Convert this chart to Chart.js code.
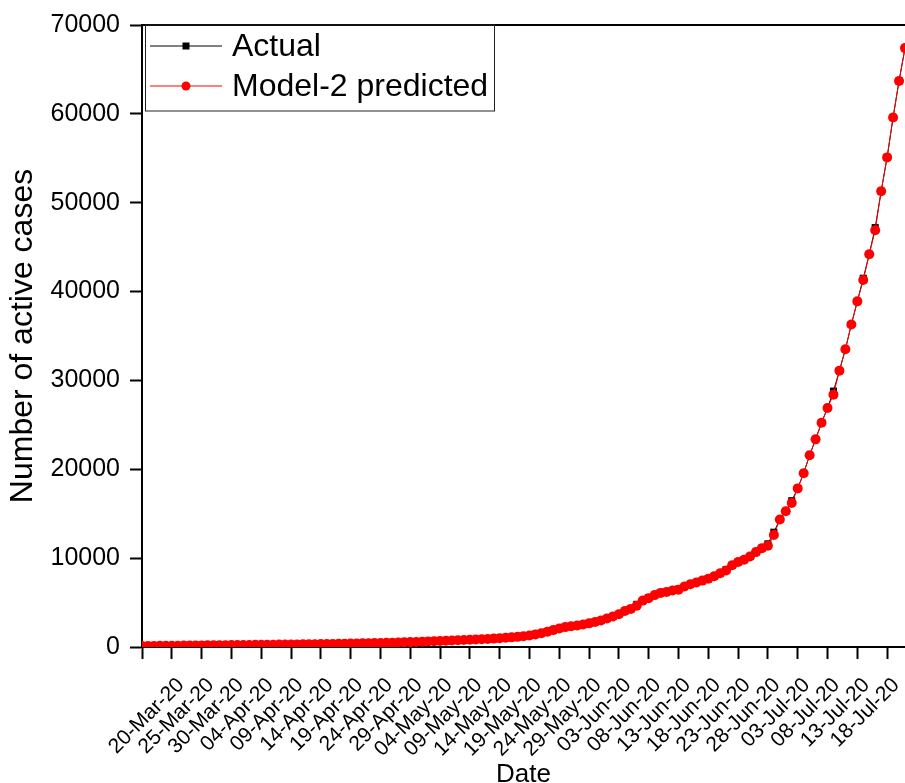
<!DOCTYPE html>
<html lang="en">
<head>
    <meta charset="UTF-8">
    <title>Active cases - Actual vs Model-2</title>
    <style>
        body { margin: 0; background: #fff; }
    </style>
</head>
<body>
    <canvas id="myChart" width="905" height="783"></canvas>
    <script src="https://cdn.jsdelivr.net/npm/chart.js"></script>
    <script>
        // day 0 = 15-Mar-20, one value per day up to 21-Jul-20
        const tickLabels = ['', '20-Mar-20', '25-Mar-20', '30-Mar-20', '04-Apr-20', '09-Apr-20', '14-Apr-20',
            '19-Apr-20', '24-Apr-20', '29-Apr-20', '04-May-20', '09-May-20', '14-May-20', '19-May-20',
            '24-May-20', '29-May-20', '03-Jun-20', '08-Jun-20', '13-Jun-20', '18-Jun-20', '23-Jun-20',
            '28-Jun-20', '03-Jul-20', '08-Jul-20', '13-Jul-20', '18-Jul-20'];

        const actual = [
            110, 118, 125, 130, 138, 145, 150, 158, 165, 172,
            180, 186, 192, 200, 207, 214, 220, 228, 235, 242,
            250, 256, 262, 270, 277, 284, 292, 300, 308, 318,
            328, 338, 348, 360, 372, 385, 398, 412, 428, 442,
            458, 475, 492, 510, 530, 552, 575, 600, 630, 655,
            680, 705, 730, 755, 780, 808, 838, 870, 905, 945,
            990, 1035, 1085, 1140, 1210, 1300, 1420, 1550, 1720, 1900,
            2080, 2240, 2330, 2420, 2530, 2660, 2820, 2990, 3200, 3440,
            3690, 4050, 4290, 4800, 5220, 5560, 5840, 6090, 6200, 6360,
            6520, 6800, 7070, 7260, 7470, 7690, 7960, 8300, 8720, 9200,
            9560, 9820, 10190, 10680, 11125, 11610, 12920, 14340, 15270, 16460,
            17850, 19560, 21580, 23370, 25240, 26900, 28800, 31100, 33500, 36300,
            38900, 41500, 44200, 47200, 51300, 55100, 59600, 63700, 67400
        ];

        const predicted = [
            110, 118, 125, 130, 138, 145, 150, 158, 165, 172,
            180, 186, 192, 200, 207, 214, 220, 228, 235, 242,
            250, 256, 262, 270, 277, 284, 292, 300, 308, 318,
            328, 338, 348, 360, 372, 385, 398, 412, 428, 442,
            458, 475, 492, 510, 530, 552, 575, 600, 630, 655,
            680, 705, 730, 755, 780, 808, 838, 870, 905, 945,
            990, 1035, 1085, 1140, 1210, 1300, 1420, 1550, 1720, 1900,
            2080, 2240, 2330, 2420, 2530, 2660, 2820, 2990, 3200, 3440,
            3690, 4050, 4290, 4650, 5220, 5500, 5840, 6090, 6200, 6360,
            6450, 6800, 7070, 7260, 7470, 7690, 7960, 8300, 8600, 9200,
            9560, 9820, 10190, 10680, 11125, 11400, 12600, 14340, 15270, 16200,
            17850, 19560, 21580, 23370, 25240, 26900, 28400, 31100, 33500, 36300,
            38900, 41300, 44200, 46900, 51300, 55100, 59600, 63700, 67400
        ];

        const yTicks = [0, 10000, 20000, 30000, 40000, 50000, 60000, 70000];

        Chart.defaults.font.family = '"Liberation Sans", Arial, sans-serif';
        Chart.defaults.color = '#000';

        // top border of the frame + legend box, Origin style
        const framePlugin = {
            id: 'framePlugin',
            afterDraw: (chart) => {
                const ctx = chart.ctx;
                const area = chart.chartArea;
                ctx.save();
                ctx.strokeStyle = '#000';
                ctx.lineWidth = 2;
                ctx.beginPath();
                ctx.moveTo(area.left - 1, area.top);
                ctx.lineTo(chart.width, area.top);
                ctx.stroke();

                // legend
                ctx.lineWidth = 1;
                ctx.strokeStyle = '#222';
                ctx.strokeRect(145.5, area.top, 349, 86);
                const rows = [
                    { ds: chart.data.datasets[0], y: 46 },
                    { ds: chart.data.datasets[1], y: 86 }
                ];
                rows.forEach(r => {
                    ctx.strokeStyle = r.ds.borderColor;
                    ctx.lineWidth = 1;
                    ctx.beginPath();
                    ctx.moveTo(150, r.y);
                    ctx.lineTo(222, r.y);
                    ctx.stroke();
                    ctx.fillStyle = r.ds.pointBackgroundColor;
                    if (r.ds.pointStyle === 'rect') {
                        ctx.fillRect(186 - 3.5, r.y - 3.5, 7, 7);
                    } else {
                        ctx.beginPath();
                        ctx.arc(186, r.y, 4.5, 0, Math.PI * 2);
                        ctx.fill();
                    }
                    ctx.fillStyle = '#000';
                    ctx.font = '32px "Liberation Sans", Arial, sans-serif';
                    ctx.textBaseline = 'middle';
                    ctx.textAlign = 'left';
                    ctx.fillText(r.ds.label, 232, r.y + 1);
                });
                ctx.restore();
            }
        };

        const ctx = document.getElementById('myChart').getContext('2d');
        new Chart(ctx, {
            type: 'line',
            data: {
                datasets: [
                    {
                        label: 'Actual',
                        data: actual.map((v, i) => ({ x: i, y: v })),
                        borderColor: '#000',
                        borderWidth: 1,
                        pointStyle: 'rect',
                        pointRadius: 5,
                        pointBackgroundColor: '#000',
                        pointBorderWidth: 0,
                        tension: 0,
                        order: 2
                    },
                    {
                        label: 'Model-2 predicted',
                        data: predicted.map((v, i) => ({ x: i, y: v })),
                        borderColor: '#ff0000',
                        borderWidth: 1,
                        pointStyle: 'circle',
                        pointRadius: 5,
                        pointBackgroundColor: '#ff0000',
                        pointBorderWidth: 0,
                        tension: 0,
                        order: 1
                    }
                ]
            },
            options: {
                responsive: false,
                devicePixelRatio: 1,
                animation: false,
                layout: { autoPadding: false, padding: { top: 22, right: 0, left: 0, bottom: 0 } },
                plugins: {
                    legend: { display: false },
                    tooltip: { enabled: false }
                },
                scales: {
                    x: {
                        type: 'linear',
                        min: 0,
                        max: 128,
                        afterFit: (scale) => {
                            scale.height = 136;
                            scale.paddingRight = 0;
                            scale.paddingLeft = 0;
                        },
                        border: { display: true, color: '#000', width: 2 },
                        grid: { drawOnChartArea: false, drawTicks: true, tickLength: 12, tickWidth: 2, tickColor: '#000' },
                        ticks: {
                            stepSize: 5,
                            includeBounds: false,
                            autoSkip: false,
                            maxRotation: 45,
                            minRotation: 45,
                            padding: 14,
                            labelOffset: 9,
                            font: { size: 21 },
                            callback: (value) => tickLabels[Math.round(value / 5)] ?? ''
                        },
                        title: {
                            display: true,
                            text: 'Date',
                            font: { size: 26 },
                            padding: { top: 0, bottom: -7 }
                        }
                    },
                    y: {
                        min: 0,
                        max: 70000,
                        afterFit: (scale) => { scale.width = 142; },
                        afterBuildTicks: (scale) => { scale.ticks = yTicks.map(v => ({ value: v })); },
                        border: { display: true, color: '#000', width: 2 },
                        grid: { drawOnChartArea: false, drawTicks: true, tickLength: 12, tickWidth: 2, tickColor: '#000' },
                        ticks: {
                            padding: 10,
                            font: { size: 25 },
                            callback: (value) => String(value)
                        },
                        title: {
                            display: true,
                            text: 'Number of active cases',
                            font: { size: 32 },
                            padding: { top: 4, bottom: 0 }
                        }
                    }
                }
            },
            plugins: [framePlugin]
        });
    </script>
</body>
</html>
